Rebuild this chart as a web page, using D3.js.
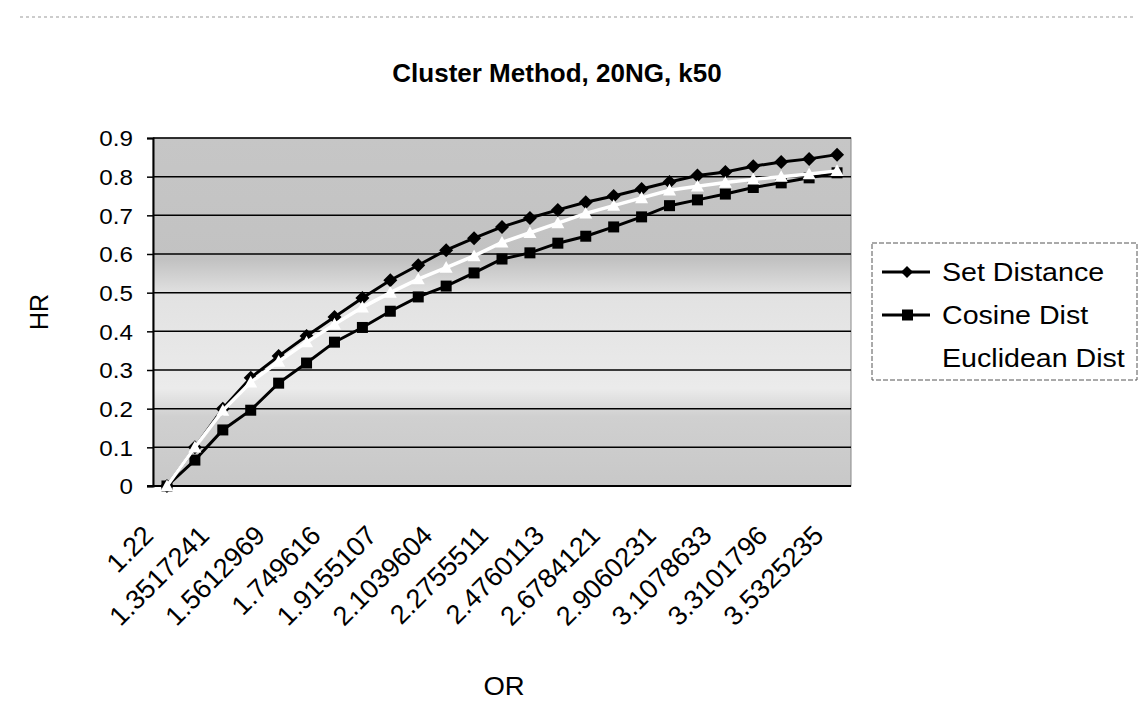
<!DOCTYPE html>
<html>
<head>
<meta charset="utf-8">
<script src="https://cdnjs.cloudflare.com/ajax/libs/d3/7.8.5/d3.min.js"></script>
<style>
  body { margin: 0; background: #fff; }
  text { font-family: "Liberation Sans", Arial, sans-serif; fill: #000; }
</style>
</head>
<body>
<div id="chart"></div>
<script>
// OR values shown under every second category
const orTicks = ["1.22", "1.3517241", "1.5612969", "1.749616", "1.9155107", "2.1039604",
  "2.2755511", "2.4760113", "2.6784121", "2.9060231", "3.1078633", "3.3101796", "3.5325235"];

// HR per category (25 points)
const setDistance = [0, 0.1, 0.2, 0.28, 0.336, 0.388, 0.437, 0.486, 0.532, 0.571, 0.61, 0.641,
  0.67, 0.693, 0.714, 0.734, 0.75, 0.768, 0.786, 0.803, 0.812, 0.827, 0.838, 0.846, 0.857];
const cosineDist = [0, 0.067, 0.145, 0.196, 0.266, 0.318, 0.372, 0.41, 0.452, 0.489, 0.517, 0.551,
  0.587, 0.603, 0.628, 0.646, 0.67, 0.696, 0.725, 0.74, 0.755, 0.772, 0.784, 0.797, 0.81];
const euclideanDist = [0, 0.1, 0.195, 0.268, 0.322, 0.372, 0.418, 0.462, 0.5, 0.535, 0.565, 0.595,
  0.63, 0.655, 0.68, 0.705, 0.725, 0.745, 0.765, 0.775, 0.785, 0.793, 0.8, 0.807, 0.815];

const yTicks = [0, 0.1, 0.2, 0.3, 0.4, 0.5, 0.6, 0.7, 0.8, 0.9];
const seriesNames = ["Set Distance", "Cosine Dist", "Euclidean Dist"];

const width = 1139, height = 725;
const plotLeft = 153, plotRight = 851, plotTop = 138, plotBottom = 486;
const SX = 1.1; // the scanned chart is a bit wider than tall

const svg = d3.select("#chart").append("svg")
  .attr("width", width).attr("height", height);

// chart border (only top edge shows in the scan)
svg.append("line")
  .attr("x1", 20).attr("x2", 1135).attr("y1", 17).attr("y2", 17)
  .attr("stroke", "#999").attr("stroke-width", 1).attr("stroke-dasharray", "3,3");

const x = d3.scaleBand().domain(d3.range(setDistance.length)).range([plotLeft, plotRight]);
const cx = i => x(i) + x.bandwidth() / 2;
const y = d3.scaleLinear().domain([0, 0.9]).range([plotBottom, plotTop]);

// plot background
const grad = svg.append("defs").append("linearGradient")
  .attr("id", "bg").attr("x1", 0).attr("x2", 0).attr("y1", 0).attr("y2", 1);
[[0, "#c6c6c6"], [0.35, "#c2c2c2"], [0.45, "#e2e2e2"], [0.72, "#ebebeb"], [0.8, "#d0d0d0"], [1, "#c8c8c8"]]
  .forEach(s => grad.append("stop").attr("offset", s[0]).attr("stop-color", s[1]));

svg.append("rect")
  .attr("x", plotLeft).attr("y", plotTop).attr("width", plotRight - plotLeft).attr("height", plotBottom - plotTop)
  .attr("fill", "url(#bg)").attr("stroke", "#888").attr("stroke-width", 1);

// gridlines
svg.append("g").selectAll("line").data(yTicks).enter().append("line")
  .attr("x1", plotLeft).attr("x2", plotRight)
  .attr("y1", d => y(d)).attr("y2", d => y(d))
  .attr("stroke", "#000").attr("stroke-width", 1.5);

// y axis
const yAxis = svg.append("g").attr("transform", `translate(${plotLeft},0)`)
  .call(d3.axisLeft(y).tickValues(yTicks).tickSize(6).tickFormat(d => d === 0 ? "0" : d.toFixed(1)));
yAxis.select(".domain").attr("stroke", "#000").attr("stroke-width", 2);
yAxis.selectAll(".tick line").attr("stroke", "#000").attr("stroke-width", 1.5);
yAxis.selectAll(".tick text")
  .attr("x", null).attr("dy", "0.36em")
  .attr("transform", `translate(-20,0) scale(${SX},1)`)
  .style("font-size", "22px").style("font-family", "'Liberation Sans', Arial, sans-serif")
  .attr("fill", "#000");

// x axis line
svg.append("line")
  .attr("x1", plotLeft - 6).attr("x2", plotRight).attr("y1", plotBottom).attr("y2", plotBottom)
  .attr("stroke", "#000").attr("stroke-width", 2);

// x tick labels, every second category
svg.append("g").selectAll("text").data(orTicks).enter().append("text")
  .attr("text-anchor", "end")
  .attr("transform", (d, k) => `translate(${cx(k * 2) - 12},537) rotate(-45)`)
  .style("font-size", "27px")
  .text(d => d);

// series
const line = d3.line().x((d, i) => cx(i)).y(d => y(d));
const diamond = r => `M0,${-r}L${r},0L0,${r}L${-r},0Z`;
const triangle = r => `M0,${-r}L${r},${r * 0.8}L${-r},${r * 0.8}Z`;

svg.append("path").datum(setDistance).attr("d", line)
  .attr("fill", "none").attr("stroke", "#000").attr("stroke-width", 3);
svg.append("g").selectAll("path").data(setDistance).enter().append("path")
  .attr("d", diamond(7))
  .attr("transform", (d, i) => `translate(${cx(i)},${y(d)})`)
  .attr("fill", "#000");

svg.append("path").datum(cosineDist).attr("d", line)
  .attr("fill", "none").attr("stroke", "#000").attr("stroke-width", 3);
svg.append("g").selectAll("rect").data(cosineDist).enter().append("rect")
  .attr("x", (d, i) => cx(i) - 5.5).attr("y", d => y(d) - 5.5)
  .attr("width", 11).attr("height", 11)
  .attr("fill", "#000");

svg.append("path").datum(euclideanDist).attr("d", line)
  .attr("fill", "none").attr("stroke", "#fff").attr("stroke-width", 3.5);
svg.append("g").selectAll("path").data(euclideanDist).enter().append("path")
  .attr("d", triangle(6.5))
  .attr("transform", (d, i) => `translate(${cx(i)},${y(d)})`)
  .attr("fill", "#fff");

// titles
svg.append("text")
  .attr("text-anchor", "middle")
  .attr("transform", "translate(557,82)")
  .style("font-size", "26px").style("font-weight", "bold")
  .text("Cluster Method, 20NG, k50");

svg.append("text")
  .attr("text-anchor", "middle")
  .attr("transform", "translate(48,312) rotate(-90)")
  .style("font-size", "25px")
  .text("HR");

svg.append("text")
  .attr("text-anchor", "middle")
  .attr("transform", `translate(504,695) scale(${SX},1)`)
  .style("font-size", "25px")
  .text("OR");

// legend
const legend = svg.append("g");
legend.append("rect")
  .attr("x", 872).attr("y", 243).attr("width", 265).attr("height", 137)
  .attr("fill", "#fff").attr("stroke", "#555").attr("stroke-width", 1)
  .attr("stroke-dasharray", "5,2");

const rowY = [272, 315, 358];
const items = legend.selectAll("g.item").data(seriesNames).enter().append("g")
  .attr("transform", (d, i) => `translate(0,${rowY[i]})`);
items.append("line")
  .attr("x1", 882).attr("x2", 930)
  .attr("stroke", (d, i) => i === 2 ? "#fff" : "#000").attr("stroke-width", 3);
items.filter((d, i) => i === 0).append("path")
  .attr("d", diamond(6)).attr("transform", "translate(907,0)").attr("fill", "#000");
items.filter((d, i) => i === 1).append("rect")
  .attr("x", 902).attr("y", -5.5).attr("width", 11).attr("height", 11).attr("fill", "#000");
items.append("text")
  .attr("transform", `translate(942,9) scale(${SX},1)`)
  .style("font-size", "26px")
  .text(d => d);
</script>
</body>
</html>
